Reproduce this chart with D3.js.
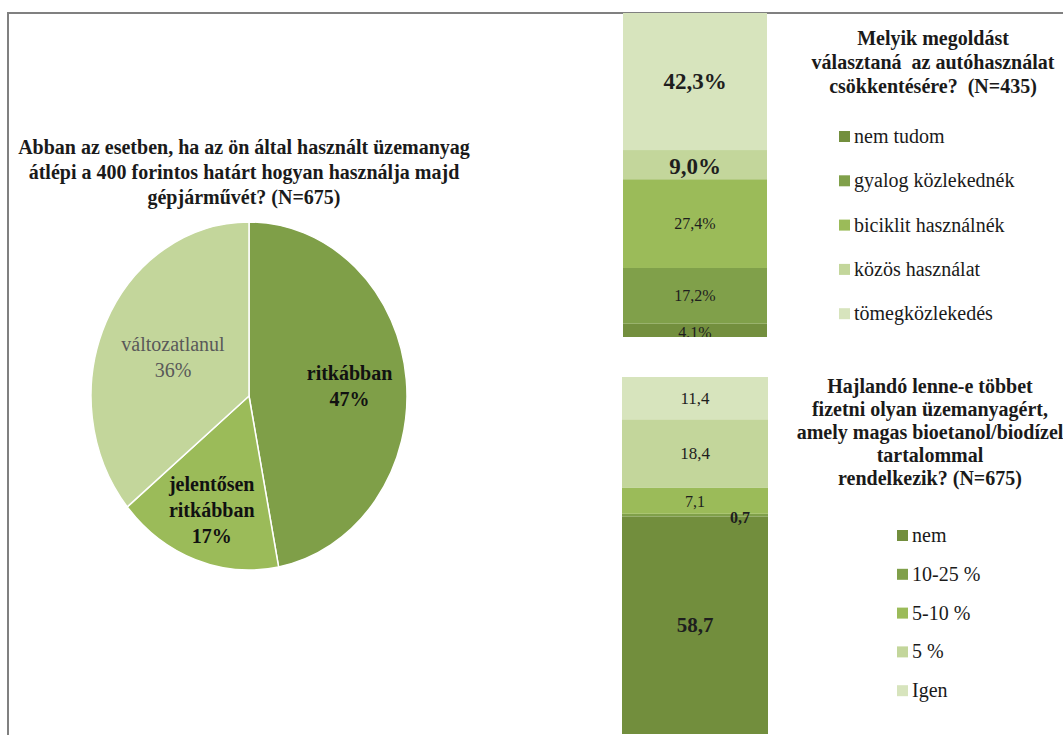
<!DOCTYPE html>
<html>
<head>
<meta charset="utf-8">
<script src="https://cdn.jsdelivr.net/npm/d3@7/dist/d3.min.js"></script>
<style>
  html, body { margin: 0; padding: 0; background: #fff; }
  svg { display: block; }
  svg text { font-family: 'Liberation Serif', 'Times New Roman', Times, 'DejaVu Serif', serif; }
</style>
</head>
<body>
<svg id="chart" width="1063" height="735"></svg>
<script>
// Pie: how car use changes if fuel passes 400 HUF
const pieTitle = ["Abban az esetben, ha az ön által használt üzemanyag",
                  "átlépi a 400 forintos határt hogyan használja majd",
                  "gépjárművét? (N=675)"];
const pieCategories = ["ritkábban", "jelentősen ritkábban", "változatlanul"];
const pieValues = [47, 17, 36];

// Stacked bar: preferred way to reduce car use
const topTitle = ["Melyik megoldást", "választaná  az autóhasználat", "csökkentésére?  (N=435)"];
const topCategories = ["nem tudom", "gyalog közlekednék", "biciklit használnék", "közös használat", "tömegközlekedés"];
const topValues = [4.1, 17.2, 27.4, 9.0, 42.3];

// Stacked bar: willingness to pay more for biofuel
const botTitle = ["Hajlandó lenne-e többet", "fizetni olyan üzemanyagért,", "amely magas bioetanol/biodízel",
                  "tartalommal", "rendelkezik? (N=675)"];
const botCategories = ["nem", "10-25 %", "5-10 %", "5 %", "Igen"];
const botValues = [58.7, 0.7, 7.1, 18.4, 11.4];

const fmt = v => d3.format(".1f")(v).replace(".", ",");
const FONT = "'Liberation Serif', 'Times New Roman', Times, 'DejaVu Serif', serif";

const svg = d3.select("#chart").attr("font-family", FONT);

// frame
svg.append("path")
  .attr("d", "M8,735 L8,13 L1063,13")
  .attr("fill", "none").attr("stroke", "#808080").attr("stroke-width", 2);

/* ---------- pie ---------- */
const pieColors = ["#7f9f48", "#9bbb59", "#c3d69b"];
const cx = 249, cy = 396, rx = 158, ry = 174;
const pie = d3.pie().sort(null).value(d => d)(pieValues);
const arc = d3.arc().innerRadius(0).outerRadius(rx);

const pg = svg.append("g").attr("transform", `translate(${cx},${cy}) scale(1,${ry / rx})`);
pg.selectAll("path").data(pie).join("path")
  .attr("d", arc)
  .attr("fill", (d, i) => pieColors[i])
  .attr("stroke", "#fff").attr("stroke-width", 1.5)
  .attr("vector-effect", "non-scaling-stroke");

svg.append("g").selectAll("text").data(pieTitle).join("text")
  .attr("x", 244).attr("y", (d, i) => 147 + i * 25)
  .attr("text-anchor", "middle").attr("dominant-baseline", "central")
  .attr("font-family", FONT)
  .attr("font-size", 20).attr("font-weight", "bold").attr("fill", "#1a1a1a")
  .text(d => d);

const labelRadius = [101, 110, 84];
const pieLabelStyle = [
  { weight: "bold", fill: "#111" },
  { weight: "bold", fill: "#111" },
  { weight: "normal", fill: "#595959" }
];
pie.forEach((d, i) => {
  const a = (d.startAngle + d.endAngle) / 2;
  const lx = cx + Math.sin(a) * labelRadius[i];
  const ly = cy - Math.cos(a) * labelRadius[i] * (ry / rx);
  const lines = pieCategories[i].split(" ").concat([Math.round(d.value) + "%"]);
  const t = svg.append("text")
    .attr("text-anchor", "middle").attr("font-size", 20).attr("font-family", FONT)
    .attr("font-weight", pieLabelStyle[i].weight).attr("fill", pieLabelStyle[i].fill);
  lines.forEach((s, j) => {
    t.append("tspan").attr("x", lx)
      .attr("y", ly + (j - (lines.length - 1) / 2) * 26)
      .attr("dominant-baseline", "central").text(s);
  });
});

/* ---------- stacked bars ---------- */
function stackedBar(opts) {
  const { cats, vals, colors, x0, x1, yTop, yBottom, domainMax, labelStyle, clip, id } = opts;
  const y = d3.scaleLinear().domain([0, domainMax]).range([yBottom, yTop]);
  let acc = 0;
  const segs = vals.map((v, i) => { const s = { cat: cats[i], v, y0: acc, y1: acc + v, i }; acc += v; return s; });
  const g = svg.append("g");
  g.selectAll("rect").data(segs).join("rect")
    .attr("x", x0).attr("width", x1 - x0)
    .attr("y", d => y(d.y1)).attr("height", d => y(d.y0) - y(d.y1))
    .attr("fill", d => colors[d.i]);
  const lg = svg.append("g");
  if (clip) {
    svg.append("clipPath").attr("id", id).append("rect")
      .attr("x", x0).attr("y", y(acc)).attr("width", x1 - x0).attr("height", y(0) - y(acc));
    lg.attr("clip-path", `url(#${id})`);
  }
  lg.selectAll("text").data(segs).join("text")
    .attr("x", d => (x0 + x1) / 2 + (labelStyle[d.i].dx || 0))
    .attr("y", d => (y(d.y0) + y(d.y1)) / 2 + (labelStyle[d.i].dy || 0))
    .attr("text-anchor", "middle").attr("dominant-baseline", "central")
    .attr("font-family", FONT)
    .attr("font-size", d => labelStyle[d.i].size)
    .attr("font-weight", d => labelStyle[d.i].weight)
    .attr("fill", "#1e1e1e")
    .text(d => fmt(d.v) + (opts.pct ? "%" : ""));
  return y;
}

function legend(opts) {
  const { title, cats, colors, cx, titleY, titleStep, mx, itemY, itemStep } = opts;
  svg.append("g").selectAll("text").data(title).join("text")
    .attr("x", cx).attr("y", (d, i) => titleY + i * titleStep)
    .attr("text-anchor", "middle").attr("dominant-baseline", "central")
    .attr("font-family", FONT)
    .attr("font-size", 20).attr("font-weight", "bold").attr("fill", "#1a1a1a")
    .attr("xml:space", "preserve").style("white-space", "pre")
    .text(d => d);
  const items = svg.append("g").selectAll("g").data(cats).join("g")
    .attr("transform", (d, i) => `translate(${mx},${itemY + i * itemStep})`);
  items.append("rect").attr("x", 0).attr("y", -5).attr("width", 11).attr("height", 11)
    .attr("fill", (d, i) => colors[i]);
  items.append("text").attr("x", 15).attr("y", 0).attr("dominant-baseline", "central")
    .attr("font-family", FONT)
    .attr("font-size", 20).attr("fill", "#1a1a1a").text(d => d);
}

const topColors = ["#738f3e", "#80a04a", "#9bbb59", "#c3d69b", "#d7e4bd"];
stackedBar({
  cats: topCategories, vals: topValues, colors: topColors,
  x0: 623, x1: 767, yTop: 13, yBottom: 337, domainMax: 100, pct: true, clip: true, id: "clipTop",
  labelStyle: [
    { size: 16, weight: "normal", dy: 2 },
    { size: 16, weight: "normal" },
    { size: 16, weight: "normal" },
    { size: 23, weight: "bold", dy: 2 },
    { size: 23, weight: "bold" }
  ]
});
legend({ title: topTitle, cats: topCategories, colors: topColors,
  cx: 933, titleY: 38, titleStep: 24, mx: 839, itemY: 136, itemStep: 44.3 });

const botColors = ["#728e3d", "#80a04a", "#9bbb59", "#c3d69b", "#d7e4bd"];
stackedBar({
  cats: botCategories, vals: botValues, colors: botColors,
  x0: 622, x1: 768, yTop: 377, yBottom: 734, domainMax: d3.sum(botValues), pct: false,
  labelStyle: [
    { size: 21, weight: "bold" },
    { size: 16, weight: "bold", dx: 45, dy: 2 },
    { size: 16, weight: "normal", dy: 1 },
    { size: 17, weight: "normal" },
    { size: 17, weight: "normal" }
  ]
});
legend({ title: botTitle, cats: botCategories, colors: botColors,
  cx: 930, titleY: 386, titleStep: 23, mx: 897, itemY: 535, itemStep: 38.8 });
</script>
</body>
</html>
